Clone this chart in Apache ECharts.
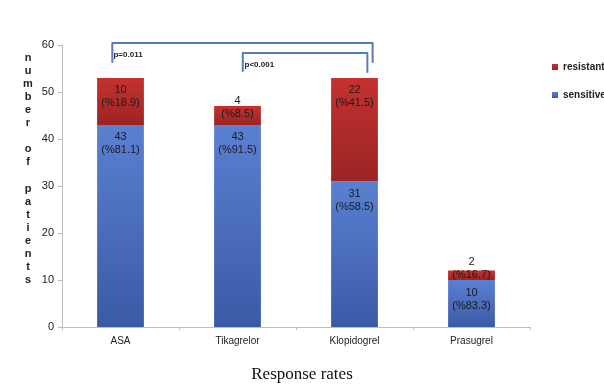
<!DOCTYPE html>
<html><head><meta charset="utf-8">
<script src="https://cdn.jsdelivr.net/npm/echarts@6/dist/echarts.min.js"></script>
<style>html,body{margin:0;padding:0;background:#fff}#c{width:604px;height:384px}</style>
</head><body><div id="c"></div>
<script>
const categories = ['ASA', 'Tikagrelor', 'Klopidogrel', 'Prasugrel'];
const sensitive = [43, 43, 31, 10];
const resistant = [10, 4, 22, 2];
const sensitivePct = ['81.1', '91.5', '58.5', '83.3'];
const resistantPct = ['18.9', '8.5', '41.5', '16.7'];
const yTicks = [0, 10, 20, 30, 40, 50, 60];
const axisName = 'number of patients';
const pTexts = ['p=0.011', 'p<0.001'];

const FONT = 'Arial, "Liberation Sans", sans-serif';
const chart = echarts.init(document.getElementById('c'));

function grad(top, bottom) {
  return new echarts.graphic.LinearGradient(0, 0, 0, 1, [
    { offset: 0, color: top }, { offset: 1, color: bottom }
  ]);
}

function items(vals, pcts) {
  return vals.map((v, i) => {
    const small = v < 8;
    return {
      value: v,
      label: {
        position: small ? 'insideBottom' : 'insideTop',
        distance: small ? (v < 3 ? -1 : 4) : 6,
        formatter: v + '\n(%' + pcts[i] + ')'
      }
    };
  });
}

const labelStyle = { show: true, color: '#1b1b1b', fontSize: 11, fontFamily: FONT, lineHeight: 13 };

chart.setOption({
  animation: false,
  grid: { left: 62, right: 74, top: 45, bottom: 57 },
  title: {
    text: 'Response rates', left: 'center', top: 361,
    textStyle: { fontFamily: '"Liberation Serif", "Times New Roman", serif', fontSize: 17, fontWeight: 'normal', color: '#111' }
  },
  legend: {
    orient: 'vertical', left: 547, top: 57, itemGap: 18, itemWidth: 6, itemHeight: 6,
    icon: 'rect',
    data: ['resistant', 'sensitive'],
    textStyle: { fontFamily: FONT, fontSize: 10, fontWeight: 'bold', color: '#222' }
  },
  xAxis: {
    type: 'category', data: categories,
    axisLine: { lineStyle: { color: '#bdbdbd' } },
    axisTick: { show: true, length: 3, lineStyle: { color: '#bdbdbd' } },
    axisLabel: { color: '#222', fontSize: 10, fontFamily: FONT, margin: 9 }
  },
  yAxis: {
    type: 'value', min: 0, max: 60, interval: 10,
    axisLine: { show: true, lineStyle: { color: '#bdbdbd' } },
    axisTick: { show: true, length: 4, lineStyle: { color: '#bdbdbd' } },
    splitLine: { show: false },
    axisLabel: { color: '#222', fontSize: 11, fontFamily: FONT, margin: 8,
      formatter: v => yTicks.includes(v) ? String(v) : '' }
  },
  series: [
    {
      name: 'sensitive', type: 'bar', stack: 'a', barWidth: '40%',
      itemStyle: { color: grad('#5b80d2', '#3a5aa6') },
      label: labelStyle,
      data: items(sensitive, sensitivePct)
    },
    {
      name: 'resistant', type: 'bar', stack: 'a', barWidth: '40%',
      itemStyle: { color: grad('#c43230', '#9c2424') },
      label: labelStyle,
      data: items(resistant, resistantPct)
    }
  ]
});

// brackets & annotations positioned from the axes
const cx = i => chart.convertToPixel({ xAxisIndex: 0 }, categories[i]);
const bw = cx(1) - cx(0);
const py = v => chart.convertToPixel({ yAxisIndex: 0 }, v);
const X = (i, f) => cx(i) + f * bw;

const brColor = '#5a7bb8';
const outer = [[X(0, -0.07), py(56.2)], [X(0, -0.07), py(60.4)], [X(2, 0.155), py(60.4)], [X(2, 0.155), py(56.2)]];
const inner = [[X(1, 0.045), py(54.3)], [X(1, 0.045), py(58.3)], [X(2, 0.11), py(58.3)], [X(2, 0.11), py(54.1)]];

chart.setOption({
  graphic: [
    { type: 'polyline', shape: { points: outer }, style: { stroke: brColor, lineWidth: 2, fill: null, lineJoin: 'round' } },
    { type: 'polyline', shape: { points: inner }, style: { stroke: brColor, lineWidth: 2, fill: null, lineJoin: 'round' } },
    { type: 'text', x: X(0, -0.06), y: py(57.9), style: { text: pTexts[0], font: 'bold 8px ' + FONT, fill: '#222', textVerticalAlign: 'middle' } },
    { type: 'text', x: X(1, 0.06), y: py(55.8), style: { text: pTexts[1], font: 'bold 8px ' + FONT, fill: '#222', textVerticalAlign: 'middle' } },
    { type: 'text', x: 28, y: 51, style: { text: axisName.split('').join('\n'), font: 'bold 11px ' + FONT, lineHeight: 13.1, fill: '#222', align: 'center' } }
  ]
});
</script></body></html>
